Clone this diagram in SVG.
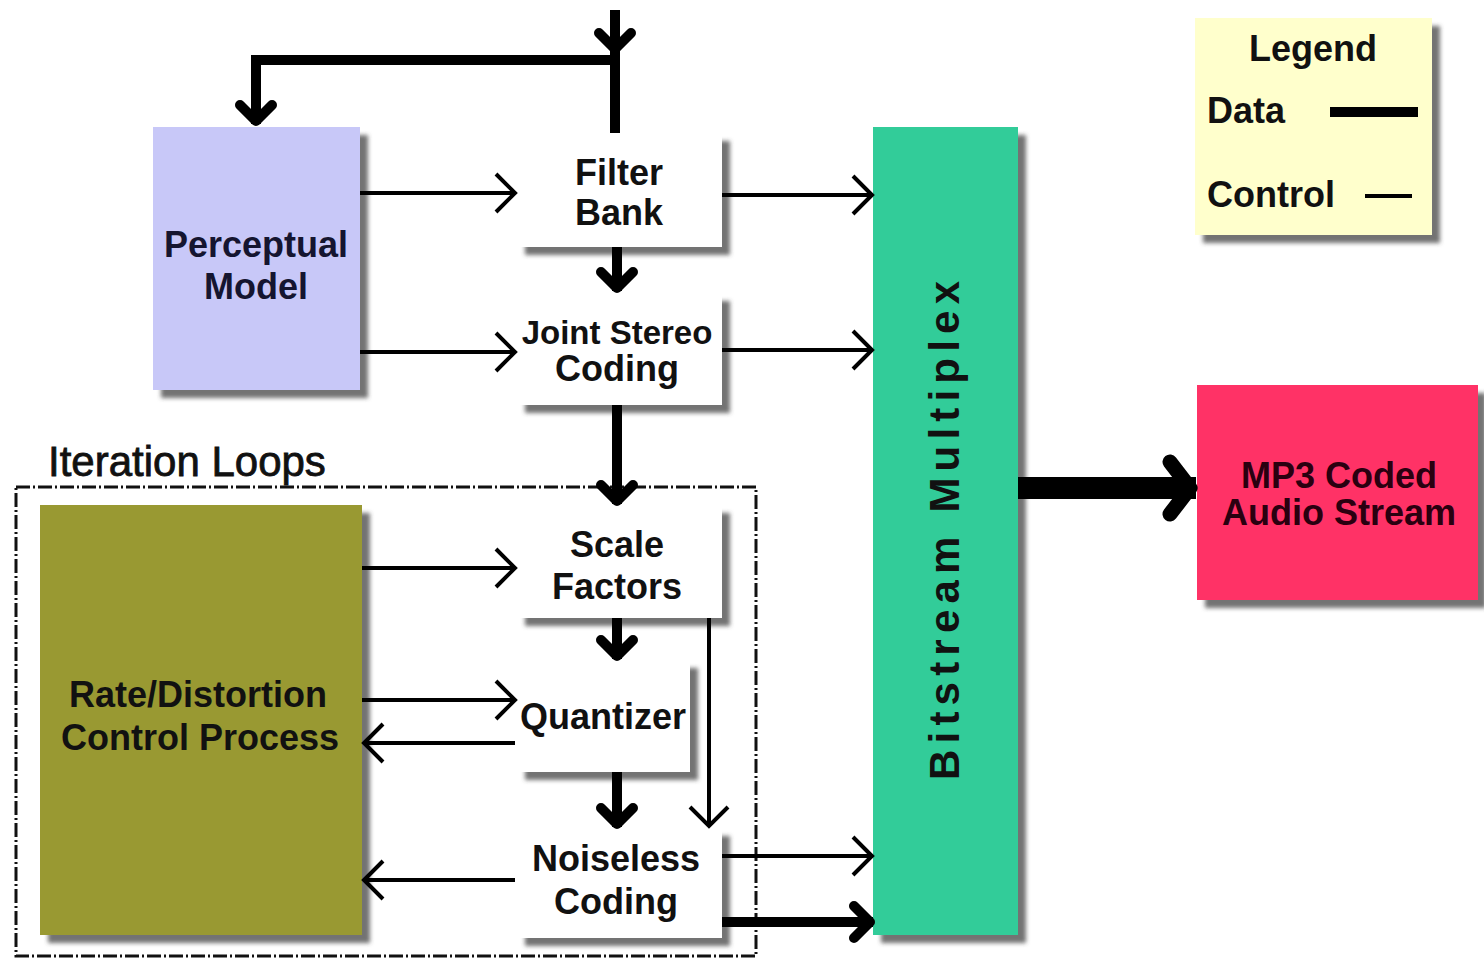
<svg xmlns="http://www.w3.org/2000/svg" width="1484" height="960" viewBox="0 0 1484 960">
<defs>
<filter id="sh" x="-10%" y="-10%" width="130%" height="130%">
<feDropShadow dx="8" dy="8" stdDeviation="2" flood-color="#444" flood-opacity="0.75"/>
</filter>
<marker id="thin" viewBox="-24 -24 28 48" refX="0" refY="0" markerWidth="28" markerHeight="48" markerUnits="userSpaceOnUse" orient="auto">
<path d="M-19,-19 L0,0 L-19,19" fill="none" stroke="#000" stroke-width="4"/>
</marker>
<marker id="thick" viewBox="-30 -28 36 56" refX="0" refY="0" markerWidth="36" markerHeight="56" markerUnits="userSpaceOnUse" orient="auto">
<path d="M-19,-16 L-3,0 L-19,16" fill="none" stroke="#000" stroke-width="10" stroke-linejoin="round" stroke-linecap="round"/>
</marker>
<marker id="big" viewBox="-40 -40 46 80" refX="0" refY="0" markerWidth="46" markerHeight="80" markerUnits="userSpaceOnUse" orient="auto">
<path d="M-26,-26 L-6,0 L-26,26" fill="none" stroke="#000" stroke-width="15" stroke-linejoin="round" stroke-linecap="round"/>
</marker>
</defs>
<style>
text{font-family:"Liberation Sans",Arial,sans-serif;font-weight:bold;font-size:36px;fill:#111;}
.c{text-anchor:middle;}
.box{filter:url(#sh);}
.t{fill:none;stroke:#000;stroke-width:4;marker-end:url(#thin);}
.d{fill:none;stroke:#000;stroke-width:10;}
.da{fill:none;stroke:#000;stroke-width:10;marker-end:url(#thick);}
</style>
<rect width="1484" height="960" fill="#fff"/>

<g id="iteration-loops">
<rect x="16" y="487" width="740" height="469" fill="none" stroke="#111" stroke-width="3" stroke-dasharray="14,3,2,3"/>
<text x="48" y="476" style="font-weight:normal;font-size:42px;stroke:#111;stroke-width:0.8">Iteration Loops</text>
</g>

<g id="perceptual-model">
<rect class="box" x="153" y="127" width="207" height="263" fill="#c8c8f8"/>
<text class="c" x="256" y="257" style="fill:#151530">Perceptual</text>
<text class="c" x="256" y="299" style="fill:#151530">Model</text>
</g>

<g id="filter-bank">
<rect class="box" x="517" y="133" width="205" height="114" fill="#fff"/>
<text class="c" x="619" y="185">Filter</text>
<text class="c" x="619" y="225">Bank</text>
</g>

<g id="joint-stereo">
<rect class="box" x="517" y="293" width="205" height="112" fill="#fff"/>
<text class="c" x="617" y="344" style="font-size:33px">Joint Stereo</text>
<text class="c" x="617" y="381">Coding</text>
</g>

<g id="scale-factors">
<rect class="box" x="517" y="505" width="205" height="113" fill="#fff"/>
<text class="c" x="617" y="557">Scale</text>
<text class="c" x="617" y="599">Factors</text>
</g>

<g id="quantizer">
<rect class="box" x="517" y="660" width="173" height="112" fill="#fff"/>
<text class="c" x="603" y="729">Quantizer</text>
</g>

<g id="noiseless-coding">
<rect class="box" x="517" y="828" width="205" height="110" fill="#fff"/>
<text class="c" x="616" y="871">Noiseless</text>
<text class="c" x="616" y="914">Coding</text>
</g>

<g id="rate-distortion">
<rect class="box" x="40" y="505" width="322" height="430" fill="#999933"/>
<text class="c" x="198" y="707">Rate/Distortion</text>
<text class="c" x="200" y="750">Control Process</text>
</g>

<g id="bitstream-multiplex">
<rect class="box" x="873" y="127" width="145" height="808" fill="#33cc99"/>
<text transform="translate(959,780) rotate(-90)" x="0" y="0" style="font-size:42px;letter-spacing:6.2px">Bitstream Multiplex</text>
</g>

<g id="mp3-stream">
<rect class="box" x="1197" y="385" width="281" height="215" fill="#ff3366"/>
<text class="c" x="1339" y="488" style="fill:#2a0010">MP3 Coded</text>
<text class="c" x="1339" y="525" style="fill:#2a0010">Audio Stream</text>
</g>

<g id="legend">
<rect class="box" x="1195" y="18" width="237" height="217" fill="#ffffcc"/>
<text class="c" x="1313" y="61">Legend</text>
<text x="1207" y="123">Data</text>
<text x="1207" y="207">Control</text>
<line x1="1330" y1="112" x2="1418" y2="112" stroke="#000" stroke-width="10"/>
<line x1="1365" y1="196" x2="1412" y2="196" stroke="#000" stroke-width="4"/>
</g>

<g id="connectors">
<line class="d" x1="615" y1="10" x2="615" y2="133"/>
<line class="da" x1="615" y1="10" x2="615" y2="52"/>
<path class="da" d="M615,60 H256 V124"/>
<line class="da" x1="617" y1="247" x2="617" y2="291"/>
<line class="da" x1="617" y1="405" x2="617" y2="504"/>
<line class="da" x1="617" y1="618" x2="617" y2="659"/>
<line class="da" x1="617" y1="772" x2="617" y2="827"/>
<line class="da" x1="722" y1="922" x2="873" y2="922"/>
<line x1="1018" y1="488" x2="1196" y2="488" stroke="#000" stroke-width="22" marker-end="url(#big)"/>

<line class="t" x1="360" y1="193" x2="515" y2="193"/>
<line class="t" x1="360" y1="352" x2="515" y2="352"/>
<line class="t" x1="722" y1="195" x2="872" y2="195"/>
<line class="t" x1="722" y1="350" x2="872" y2="350"/>
<line class="t" x1="362" y1="568" x2="515" y2="568"/>
<line class="t" x1="362" y1="700" x2="515" y2="700"/>
<line class="t" x1="515" y1="743" x2="364" y2="743"/>
<line class="t" x1="709" y1="618" x2="709" y2="826"/>
<line class="t" x1="515" y1="880" x2="364" y2="880"/>
<line class="t" x1="722" y1="856" x2="872" y2="856"/>
</g>
</svg>
